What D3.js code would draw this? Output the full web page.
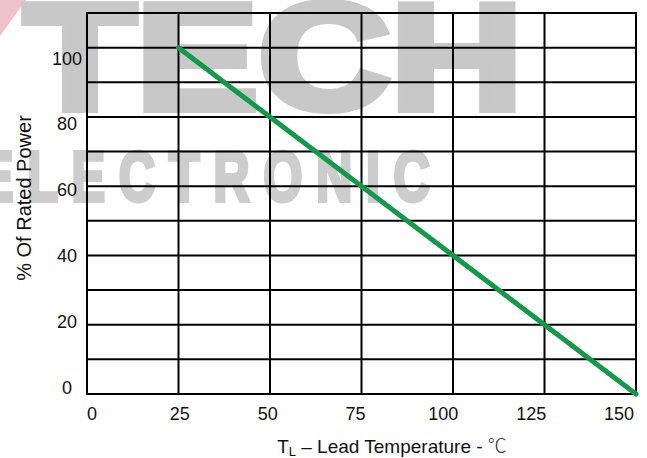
<!DOCTYPE html>
<html><head><meta charset="utf-8">
<script src="https://cdn.jsdelivr.net/npm/d3@7"></script>
<style>body{margin:0;background:#fff}svg{display:block}</style>
</head><body>
<svg id="chart" width="647" height="458"></svg>
<script>
// ---- data ----
const leadTemperature = [25, 150];      // °C
const ratedPowerPct   = [100, 0];       // % of rated power
const xTickValues     = [0, 25, 50, 75, 100, 125, 150];
const yTickValues     = [0, 20, 40, 60, 80, 100];
const yGridValues     = [0, 10, 20, 30, 40, 50, 60, 70, 80, 90, 100, 110];
const yTitle = "% Of Rated Power";

// ---- layout ----
const svg = d3.select("#chart");
const font = "'Liberation Sans', Arial, sans-serif";
const x = d3.scaleLinear().domain([0, 150]).range([87, 636]);
const y = d3.scaleLinear().domain([0, 110]).range([394, 13]);
// tick-label placement scales (labels sit slightly off the grid in the original)
const xLab = d3.scaleLinear().domain([0, 150]).range([92, 619]);
const yLab = d3.scaleLinear().domain([0, 100]).range([387, 58]);

// ---- watermark ----
const wm = svg.append("g").attr("class", "watermark");
wm.append("polygon").attr("points", "0,0 26,0 0,36").attr("fill", "#efc3cc");
wm.append("text").text("TECH")
  .attr("x", 24).attr("y", 109)
  .attr("textLength", 499).attr("lengthAdjust", "spacingAndGlyphs")
  .attr("font-family", font).attr("font-weight", "bold").attr("font-size", 150)
  .attr("fill", "#c8c8c8").attr("stroke", "#c8c8c8").attr("stroke-width", 8)
  .attr("stroke-linejoin", "miter");
wm.append("text").text("ELECTRONIC")
  .attr("transform", "scale(0.72,1)")
  .attr("x", -20 / 0.72).attr("y", 201)
  .attr("textLength", 450 / 0.72).attr("lengthAdjust", "spacing")
  .attr("font-family", font).attr("font-weight", "bold").attr("font-size", 70)
  .attr("fill", "#cdcdcd").attr("stroke", "#cdcdcd").attr("stroke-width", 4);

// ---- grid ----
const grid = svg.append("g").attr("stroke", "#000").attr("stroke-width", 2);
grid.selectAll("line.h").data(yGridValues).join("line").attr("class", "h")
  .attr("x1", x(0) - 1).attr("x2", x(150) + 1)
  .attr("y1", d => y(d)).attr("y2", d => y(d));
grid.selectAll("line.v").data(xTickValues).join("line").attr("class", "v")
  .attr("x1", d => x(d)).attr("x2", d => x(d))
  .attr("y1", y(110)).attr("y2", y(0));

// ---- derating curve ----
const pts = leadTemperature.map((t, i) => [t, ratedPowerPct[i]]);
svg.append("path").datum(pts)
  .attr("d", d3.line().x(d => x(d[0])).y(d => y(d[1])))
  .attr("fill", "none").attr("stroke", "#119a48").attr("stroke-width", 5)
  .attr("stroke-linecap", "round");

// ---- tick labels ----
svg.append("g").selectAll("text").data(xTickValues).join("text")
  .attr("x", d => xLab(d)).attr("y", 420)
  .attr("text-anchor", "middle").attr("font-family", font).attr("font-size", 18)
  .attr("fill", "#111").text(d => d);
svg.append("g").selectAll("text").data(yTickValues).join("text")
  .attr("x", 67).attr("y", d => yLab(d) + 6.5)
  .attr("text-anchor", "middle").attr("font-family", font).attr("font-size", 18)
  .attr("fill", "#111").text(d => d);

// ---- axis titles ----
const xt = svg.append("text").attr("x", 392).attr("y", 453)
  .attr("text-anchor", "middle").attr("font-family", font).attr("font-size", 19).attr("fill", "#111");
xt.append("tspan").text("T");
xt.append("tspan").text("L").attr("font-size", 13).attr("dy", 3);
xt.append("tspan").text(" – Lead Temperature - ").attr("dy", -3);
xt.append("tspan").text("℃").attr("font-family", "'Noto Sans CJK SC', sans-serif").attr("font-weight", 300).attr("fill", "#333");

svg.append("text").attr("transform", "translate(31,198) rotate(-90)")
  .attr("text-anchor", "middle").attr("font-family", font).attr("font-size", 20)
  .attr("fill", "#111").text(yTitle);
</script>
</body></html>
